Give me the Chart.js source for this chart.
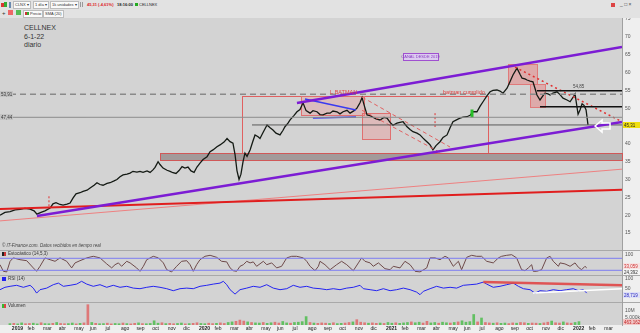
<!DOCTYPE html>
<html lang="es">
<head>
<meta charset="utf-8">
<title>CELLNEX diario</title>
<script src="https://cdn.jsdelivr.net/npm/chart.js@4.4.1/dist/chart.umd.min.js"></script>
<style>
body{margin:0;width:640px;height:333px;overflow:hidden;position:relative;background:#d3d3d3;font-family:"Liberation Sans",Arial,sans-serif;color:#333}
canvas{position:absolute;left:0}
.a{position:absolute;white-space:nowrap;line-height:1}
.bar{position:absolute;left:0;width:640px;background:#e2e2e2}
.btn{position:absolute;height:6px;font-size:4px;line-height:6px;padding:0 1px;background:#fafafa;border:1px solid #bcbcbc;color:#333;white-space:nowrap}
.sq{position:absolute}
.sep{position:absolute;left:0;width:640px;height:1px;background:#a9a9a9}
.strip{position:absolute;background:#efefef}
</style>
</head>
<body>
<div class="bar" style="top:0;height:18px"></div>
<div class="sq" style="left:1px;top:3px;width:3px;height:4px;background:#d33"></div>
<div class="sq" style="left:4px;top:2px;width:3px;height:5px;background:#3a3"></div>
<div class="sq" style="left:9px;top:2px;width:2px;height:6px;background:#6a8ab0"></div>
<div class="btn" style="left:13px;top:1px">CLNX ▾</div>
<div class="btn" style="left:33px;top:1px">1 día ▾</div>
<div class="btn" style="left:50px;top:1px">1k unidades ▾</div>
<div class="sq" style="left:80px;top:2px;width:1px;height:5px;background:#999"></div>
<div class="sq" style="left:82px;top:2px;width:1px;height:5px;background:#999"></div>
<div class="a" style="left:87px;top:3px;font-size:4px;font-weight:bold;color:#d22">45,31 (-4,61%)</div>
<div class="a" style="left:117px;top:3px;font-size:4px;font-weight:bold;color:#222">18:16:00</div>
<div class="sq" style="left:135px;top:3px;width:3px;height:3px;background:#2a2"></div>
<div class="a" style="left:139px;top:3px;font-size:4px;color:#222">CELLNEX</div>
<div class="a" style="left:2px;top:10px;font-size:6px;color:#333">+</div>
<div class="sq" style="left:8px;top:10px;width:5px;height:5px;background:#e66"></div>
<div class="sq" style="left:16px;top:10px;width:5px;height:5px;background:#5b5"></div>
<div class="btn" style="left:23px;top:10px"><span style="display:inline-block;width:2px;height:3px;background:#c33"></span><span style="display:inline-block;width:2px;height:3px;background:#3a3;margin-right:1px"></span>Precio</div>
<div class="btn" style="left:43px;top:10px">SMA (20)</div>
<div class="sq" style="left:611px;top:3px;width:4px;height:4px;background:#d44"></div>
<div class="a" style="left:620px;top:2px;font-size:5px;color:#444">_ □ ×</div>

<div class="a" style="left:24px;top:24px;font-size:7px;color:#333">CELLNEX</div>
<div class="a" style="left:24px;top:33px;font-size:7px;color:#333">6-1-22</div>
<div class="a" style="left:24px;top:41px;font-size:7px;color:#333">diario</div>

<div class="strip" style="left:622px;top:18px;width:18px;height:315px"></div>
<div class="strip" style="left:0;top:325px;width:640px;height:8px"></div>
<div class="sep" style="top:250px"></div>
<div class="sep" style="top:275px"></div>
<div class="sep" style="top:302px"></div>

<canvas id="price" width="640" height="232" style="top:18px"></canvas>
<canvas id="stoch" width="640" height="25" style="top:250px"></canvas>
<canvas id="rsi" width="640" height="27" style="top:275px"></canvas>
<canvas id="vol" width="640" height="31" style="top:302px"></canvas>

<div class="a" style="left:2px;top:244px;font-size:4.5px;font-style:italic;color:#444">© IT-Finance.com. Datos recibidos en tiempo real</div>
<div class="sq" style="left:2px;top:252px;width:2px;height:4px;background:#222"></div>
<div class="sq" style="left:4px;top:252px;width:2px;height:4px;background:#c33"></div>
<div class="a" style="left:8px;top:252px;font-size:4.5px;color:#333">Estocástico (14,5,3)</div>
<div class="sq" style="left:2px;top:277px;width:4px;height:4px;background:#22e"></div>
<div class="a" style="left:8px;top:277px;font-size:4.5px;color:#333">RSI (14)</div>
<div class="sq" style="left:2px;top:304px;width:2px;height:4px;background:#3b3"></div>
<div class="sq" style="left:4px;top:304px;width:2px;height:4px;background:#d44"></div>
<div class="a" style="left:8px;top:304px;font-size:4.5px;color:#333">Volumen</div>

<script>
// x values are months since 1 Jan 2019
const monthLabels = ['2019','feb','mar','abr','may','jun','jul','ago','sep','oct','nov','dic',
  '2020','feb','mar','abr','may','jun','jul','ago','sep','oct','nov','dic',
  '2021','feb','mar','abr','may','jun','jul','ago','sep','oct','nov','dic',
  '2022','feb','mar'];
const priceTicks = [15,20,25,30,35,40,45,50,55,60,65,70,75];

const priceT = [0.00,0.31,0.63,0.94,1.25,1.56,1.88,2.13,2.31,2.56,
  2.81,3.13,3.31,3.50,3.75,3.94,4.19,4.38,4.56,4.75,
  5.00,5.19,5.44,5.63,5.88,6.06,6.25,6.44,6.69,6.88,
  7.13,7.31,7.50,7.69,7.94,8.13,8.31,8.56,8.75,8.94,
  9.19,9.38,9.56,9.69,9.88,10.00,10.19,10.44,10.63,10.81,
  11.00,11.19,11.38,11.56,11.75,11.94,12.13,12.31,12.50,12.69,
  12.94,13.13,13.31,13.56,13.75,14.00,14.19,14.38,14.56,14.69,
  14.81,14.94,15.06,15.19,15.31,15.44,15.63,15.81,15.94,16.13,
  16.25,16.44,16.69,16.88,17.06,17.25,17.50,17.69,17.81,18.00,
  18.13,18.38,18.56,18.75,18.94,19.13,19.38,19.56,19.81,20.00,
  20.19,20.44,20.63,20.81,21.06,21.25,21.44,21.69,21.88,22.13,
  22.31,22.50,22.63,22.75,22.94,23.13,23.25,23.50,23.75,24.00,
  24.19,24.38,24.56,24.81,25.00,25.19,25.44,25.63,25.81,26.06,
  26.25,26.44,26.56,26.75,26.88,27.06,27.25,27.50,27.69,27.94,
  28.13,28.31,28.56,28.75,28.94,29.19,29.38,29.56,29.81,30.00,
  30.19,30.44,30.63,30.81,31.06,31.25,31.44,31.69,31.88,32.06,
  32.31,32.50,32.63,32.81,32.94,33.13,33.31,33.44,33.56,33.75,
  33.94,34.06,34.25,34.38,34.56,34.81,35.00,35.19,35.44,35.63,
  35.81,35.94,36.13,36.25,36.38,36.50,36.63,36.75];
const priceV = [20.0,20.8,21.0,21.5,21.6,21.9,21.7,21.2,20.3,20.8,
  21.2,22.0,23.2,23.5,23.0,22.8,23.1,23.4,24.8,26.0,
  26.3,26.7,27.0,27.6,28.4,29.1,28.6,28.4,28.9,29.1,
  29.6,30.0,30.8,31.3,31.5,31.8,32.3,32.1,32.3,32.0,
  32.4,32.0,32.7,33.4,35.0,34.2,33.2,32.6,32.3,31.9,
  31.7,32.5,33.6,33.2,33.5,32.4,32.0,33.5,34.6,35.6,
  36.4,37.8,38.3,39.2,39.7,40.5,41.5,40.6,40.2,37.0,
  32.5,30.0,31.5,35.0,37.4,36.5,38.3,40.8,42.5,42.0,
  41.5,43.2,45.3,44.5,43.9,43.0,42.5,43.8,44.8,45.8,
  46.7,48.0,49.0,49.6,51.5,49.3,48.6,49.3,49.0,48.2,
  48.1,48.6,48.6,49.2,49.0,48.4,49.0,49.4,48.6,49.3,
  50.0,51.5,53.0,51.0,48.1,47.9,47.6,47.0,46.7,47.4,
  47.2,46.0,45.2,45.8,46.0,46.2,44.8,44.0,43.4,43.0,
  42.5,41.6,41.1,40.3,39.7,38.3,39.5,40.6,41.8,42.5,
  44.5,46.2,46.8,47.2,47.5,47.6,48.0,49.0,49.0,50.5,
  51.8,53.5,54.6,55.0,55.1,54.8,54.2,55.6,57.5,59.3,
  61.2,59.5,58.4,58.2,57.9,57.6,57.4,55.5,53.7,52.3,
  53.5,54.2,54.0,53.7,54.2,54.6,53.8,52.8,52.3,51.8,
  53.0,54.0,48.3,49.5,51.2,50.8,49.5,45.3];

const stochT = [0.00,0.21,0.42,0.63,0.83,1.25,1.67,2.08,2.29,2.50,
  2.81,3.13,3.44,3.75,4.17,4.48,4.69,5.00,5.42,5.83,
  6.25,6.67,6.98,7.19,7.40,7.60,7.92,8.13,8.54,8.75,
  8.96,9.17,9.58,9.90,10.21,10.42,10.73,11.04,11.35,11.67,
  11.88,12.08,12.29,12.50,12.81,13.13,13.54,13.85,14.17,14.38,
  14.58,14.79,15.00,15.21,15.42,15.63,15.83,16.04,16.46,16.67,
  16.98,17.29,17.60,17.92,18.23,18.54,18.96,19.17,19.38,19.69,
  19.90,20.00,20.31,20.63,21.04,21.35,21.67,22.08,22.40,22.60,
  22.81,23.13,23.33,23.65,24.06,24.38,24.58,25.00,25.31,25.63,
  25.94,26.25,26.67,26.88,27.19,27.50,27.81,28.02,28.33,28.65,
  28.85,29.17,29.48,29.79,30.10,30.42,30.83,31.15,31.35,31.67,
  31.98,32.29,32.60,32.81,33.02,33.23,33.33,33.54,33.85,34.17,
  34.38,34.58,34.90,35.00,35.31,35.63,35.94,36.15,36.35,36.56,
  36.67];
const stochV = [48,15,12,65,82,73,68,32,15,40,
  82,73,65,82,65,32,57,68,82,90,
  82,52,32,48,57,40,65,57,32,15,
  40,73,90,82,57,23,12,40,65,68,
  48,15,48,73,90,95,85,65,62,32,
  18,15,40,48,65,57,62,40,65,48,
  57,32,40,82,90,90,82,65,40,18,
  40,65,48,23,48,65,48,18,57,82,
  65,57,40,57,28,23,40,32,65,48,
  15,12,32,82,82,73,90,82,40,65,
  23,85,95,90,90,65,57,82,90,95,
  98,82,23,18,32,48,15,15,23,82,
  90,65,40,57,52,40,57,35,23,40,
  32];
const stochLevels = [80, 20];

const rsiT = [0.00,0.31,0.63,1.04,1.46,1.88,2.08,2.29,2.50,2.92,
  3.33,3.65,3.96,4.38,4.79,5.10,5.42,5.83,6.25,6.67,
  7.08,7.50,7.92,8.33,8.75,9.17,9.58,10.00,10.42,10.83,
  11.25,11.67,12.08,12.50,12.92,13.33,13.75,13.96,14.17,14.38,
  14.69,15.00,15.42,15.83,16.25,16.67,17.08,17.50,17.92,18.33,
  18.75,19.17,19.58,20.00,20.42,20.83,21.25,21.67,22.08,22.50,
  22.71,23.13,23.54,23.96,24.38,24.79,25.21,25.63,26.04,26.25,
  26.46,26.88,27.29,27.71,28.13,28.54,28.96,29.38,29.79,30.21,
  30.42,30.83,31.25,31.67,32.08,32.40,32.71,33.13,33.44,33.75,
  34.17,34.58,35.00,35.42,35.83,36.15,36.46,36.67];
const rsiV = [45,57,62,67,57,67,53,28,45,53,
  70,78,62,67,73,87,73,62,70,57,
  67,57,62,53,50,57,62,57,50,40,
  50,53,50,62,67,73,78,87,70,45,
  23,45,53,62,57,70,53,45,50,67,
  57,62,53,50,45,50,45,53,57,67,
  50,45,40,50,40,45,53,45,33,20,
  37,50,62,53,57,53,67,70,73,83,
  73,57,62,70,78,62,50,45,28,40,
  37,45,40,45,50,40,45,28];

// volume in millions, one bar per quarter month
const volumeM = [1.0,1.2,0.8,1.5,0.9,1.1,1.3,0.8,1.6,1.0,0.9,1.2,1.8,1.1,0.9,1.0,1.4,0.8,1.2,1.5,
  14.5,1.8,
  1.2,0.9,1.0,1.3,0.8,1.1,0.9,1.4,1.0,0.8,1.2,1.5,1.0,0.9,1.1,3.0,1.3,1.6,
  1.0,1.2,0.9,1.1,1.4,0.8,1.0,1.2,1.6,1.1,0.9,1.3,1.0,1.2,1.5,1.1,1.8,2.2,2.6,
  3.5,2.8,2.2,1.8,
  1.5,1.4,1.8,1.2,1.6,2.0,1.4,2.5,1.5,1.3,1.8,2.0,2.4,6.0,1.8,1.4,1.2,1.5,
  1.3,1.1,1.6,1.0,1.2,1.4,1.8,2.2,3.8,2.0,1.6,1.3,1.5,1.2,1.4,1.1,1.8,1.3,1.6,1.2,
  1.5,1.8,2.2,1.6,2.0,1.4,2.6,1.5,1.8,1.3,2.0,1.6,1.4,1.8,2.2,3.0,2.0,2.4,7.5,2.2,5.0,
  1.8,1.5,1.3,1.6,1.2,1.4,1.0,1.5,1.3,1.8,1.6,1.2,1.4,1.3,1.1,1.5,2.0,2.8,1.6,1.4,2.2,1.5,1.3,1.8,2.4];
const volumeDir = ('uduudduuduududduudud' + 'du' + 'duudduududduduuuud' + 'udduududduuddudduud' + 'ddud' +
  'uuduudduuduuuududd' + 'duduuddudddudduduudu' + 'uuduudduuduududuuuudu' + 'dduduuddudduddudduddudduu').split('');
const volumeT = volumeM.map((v, i) => 0.125 + i * 0.25);

const XMAX = 38.875;
const FONT = 'Liberation Sans';
const PURPLE = '#7c1cd4';

// drawn studies on the price panel: [month, price]
const studyLines = [
  {from:[18.56,51.45], to:[XMAX,67.15], color:PURPLE, width:2.5},
  {from:[2.31,19.8], to:[XMAX,46.1], color:PURPLE, width:2.5},
  {from:[0,21.7], to:[XMAX,27.1], color:'#e01e1e', width:2},
  {from:[0,18.4], to:[XMAX,32.9], color:'#ee8080', width:1},
  {from:[0,53.91], to:[XMAX,53.91], color:'#8a8a8a', width:1.5, dash:[6,4]},
  {from:[0,47.44], to:[XMAX,47.44], color:'#8c8c8c', width:1},
  {from:[15.75,45.3], to:[XMAX,45.3], color:'#5a5a5a', width:1},
  {from:[33.56,54.85], to:[XMAX,54.85], color:'#111', width:1.5},
  {from:[33.75,50.4], to:[XMAX,50.4], color:'#111', width:1.5},
  {from:[32.19,61.5], to:[XMAX,46.2], color:'#e03030', width:1.5, dash:[2,3]},
  {from:[19.06,52.6], to:[22.25,49.5], color:'#3a3af0', width:1.5},
  {from:[19.56,47.25], to:[22.25,47.5], color:'#3a3af0', width:1.5},
  {from:[22.63,53.1], to:[28.13,39.1], color:'#e06060', width:1, dash:[4,3]},
  {from:[22.63,49.4], to:[27.5,37.6], color:'#e06060', width:1, dash:[4,3]},
  {from:[3.06,25.3], to:[3.06,22.0], color:'#e03030', width:1, dash:[2,2]},
  {from:[27.19,48.6], to:[27.19,44.7], color:'#e03030', width:1, dash:[2,2]},
  {from:[29.5,49.6], to:[29.5,47.4], color:'#28c028', width:3}
];
const studyBoxes = [
  {from:[15.13,53.4], to:[30.5,37.4], stroke:'#e06060'},
  {from:[10.0,37.4], to:[XMAX,35.5], fill:'#a29a9a', stroke:'#d05858'},
  {from:[18.81,53.4], to:[22.75,48.1], fill:'rgba(240,140,140,0.30)', stroke:'#e07070'},
  {from:[22.63,48.6], to:[24.38,41.4], fill:'rgba(240,140,140,0.35)', stroke:'#e07070'},
  {from:[31.75,62.4], to:[33.56,56.8], fill:'rgba(232,120,120,0.45)', stroke:'#e07a7a'},
  {from:[33.13,56.8], to:[34.06,50.3], fill:'rgba(232,120,120,0.45)', stroke:'#e07a7a'},
  {from:[25.19,65.5], to:[27.38,63.4], fill:'#dccbf0', stroke:'#a050d0'}
];
const studyTexts = [
  {at:[20.63,54.3], text:'L BATMAN', color:'#e04040', size:5.5},
  {at:[27.69,54.45], text:'batman cumplido', color:'#e04040', size:5.5},
  {at:[35.81,56.1], text:'54,85', color:'#444', size:4.5},
  {at:[26.28,64.45], text:'CANAL DESDE 2019', color:'#8a3ec0', size:4, align:'center'}
];

const fitRight = s => { s.width = 18; s.paddingTop = 0; s.paddingBottom = 0; };

// plugin factory: the drawings are kept in a closure, not in chart options
function drawings(d) {
  return {
    id: 'drawings',
    beforeDatasetsDraw(chart) {
      const {ctx, scales: {x, y}} = chart;
      ctx.save();
      (d.boxes || []).forEach(b => {
        const x0 = Math.round(x.getPixelForValue(b.from[0])), x1 = Math.round(x.getPixelForValue(b.to[0]));
        const y0 = Math.round(y.getPixelForValue(b.from[1])), y1 = Math.round(y.getPixelForValue(b.to[1]));
        if (b.fill) { ctx.fillStyle = b.fill; ctx.fillRect(x0, y0, x1 - x0, y1 - y0); }
        if (b.stroke) { ctx.strokeStyle = b.stroke; ctx.lineWidth = 1; ctx.strokeRect(x0 + 0.5, y0 + 0.5, x1 - x0, y1 - y0); }
      });
      ctx.restore();
    },
    afterDatasetsDraw(chart) {
      const {ctx, chartArea: a, scales: {x, y}} = chart;
      ctx.save();
      ctx.textBaseline = 'middle';
      (d.texts || []).forEach(t => {
        ctx.font = t.size + 'px "' + FONT + '"';
        ctx.fillStyle = t.color;
        ctx.textAlign = t.align || 'left';
        ctx.fillText(t.text, x.getPixelForValue(t.at[0]), y.getPixelForValue(t.at[1]));
      });
      (d.arrows || []).forEach(p => {
        const cx = x.getPixelForValue(p[0]), cy = y.getPixelForValue(p[1]);
        ctx.beginPath();
        ctx.moveTo(cx - 8, cy); ctx.lineTo(cx - 1, cy - 6); ctx.lineTo(cx - 1, cy - 3);
        ctx.lineTo(cx + 7, cy - 3); ctx.lineTo(cx + 7, cy + 3); ctx.lineTo(cx - 1, cy + 3);
        ctx.lineTo(cx - 1, cy + 6); ctx.closePath();
        ctx.strokeStyle = '#ffffff'; ctx.lineWidth = 1.5; ctx.stroke();
      });
      (d.tags || []).forEach(t => {
        const py = Math.round(y.getPixelForValue(t.value)) + (t.nudge || 0);
        const px = t.left ? 0 : a.right + 1;
        ctx.fillStyle = t.bg; ctx.fillRect(px, py - 3, t.w || 17, 6);
        ctx.font = '4.5px "' + FONT + '"';
        ctx.fillStyle = t.color; ctx.textAlign = 'left';
        ctx.fillText(t.text, px + 1, py + 0.5);
      });
      ctx.restore();
    }
  };
}

const pts = (xs, ys) => xs.map((v, i) => ({x: v, y: ys[i]}));
const hidden = {display: false};
const baseOpts = {
  responsive: false, animation: false, events: [],
  layout: {padding: 0},
  elements: {point: {radius: 0}, line: {tension: 0}}
};
const rightAxis = (min, max, ticks, label) => ({
  position: 'right', min, max,
  grid: {display: false, drawTicks: false},
  border: {display: true, color: '#a0a0a0'},
  afterBuildTicks: s => { s.ticks = ticks.map(v => ({value: v})); },
  afterFit: fitRight,
  ticks: {padding: 3, color: '#555', font: {size: 5, family: FONT}, callback: label || (v => v)}
});
const plainX = {type: 'linear', min: 0, max: XMAX, display: false};

// price panel
new Chart(document.getElementById('price'), {
  type: 'line',
  data: {
    datasets: studyLines.map(l => ({
      data: [{x: l.from[0], y: l.from[1]}, {x: l.to[0], y: l.to[1]}],
      borderColor: l.color, borderWidth: l.width, borderDash: l.dash || []
    })).concat([{
      data: pts(priceT, priceV), borderColor: '#141a14', borderWidth: 1.3
    }])
  },
  options: Object.assign({}, baseOpts, {
    plugins: {legend: hidden, tooltip: {enabled: false}},
    scales: {x: plainX, y: rightAxis(10.24, 75.28, priceTicks)}
  }),
  plugins: [drawings({
    boxes: studyBoxes, texts: studyTexts, arrows: [[37.69, 45.0]],
    tags: [
      {value: 45.31, text: '45,31', bg: '#f0e010', color: '#222'},
      {value: 53.91, text: '53,91', bg: '#c4c4c4', color: '#333', left: true, w: 13},
      {value: 47.44, text: '47,44', bg: '#c4c4c4', color: '#333', left: true, w: 13}
    ]
  })]
});

// stochastic panel
new Chart(document.getElementById('stoch'), {
  type: 'line',
  data: {
    datasets: stochLevels.map(v => ({
      data: [{x: 0, y: v}, {x: XMAX, y: v}], borderColor: '#7d7df2', borderWidth: 1
    })).concat([{data: pts(stochT, stochV), borderColor: '#6e4a4a', borderWidth: 1}])
  },
  options: Object.assign({}, baseOpts, {
    plugins: {legend: hidden, tooltip: {enabled: false}},
    scales: {x: plainX, y: rightAxis(-3.5, 121.5, [100])}
  }),
  plugins: [drawings({tags: [
    {value: 33.06, text: '33,059', bg: '#f7e2e2', color: '#d03030', nudge: -2},
    {value: 24.39, text: '24,392', bg: '#f4f4f4', color: '#333', nudge: 3}
  ]})]
});

// RSI panel
new Chart(document.getElementById('rsi'), {
  type: 'line',
  data: {
    datasets: [
      {data: [{x: 30.21, y: 83}, {x: XMAX, y: 67}], borderColor: 'rgba(224,70,70,0.9)', borderWidth: 2.5},
      {data: [{x: 33.31, y: 28}, {x: XMAX, y: 50}], borderColor: '#ffffff', borderWidth: 1.5},
      {data: pts(rsiT, rsiV), borderColor: '#2424f0', borderWidth: 1}
    ]
  },
  options: Object.assign({}, baseOpts, {
    plugins: {legend: hidden, tooltip: {enabled: false}},
    scales: {x: plainX, y: rightAxis(-16.5, 118.5, [100, 50])}
  }),
  plugins: [drawings({tags: [{value: 28.72, text: '28,719', bg: '#dfe0f6', color: '#2424c0', nudge: 2}]})]
});

// volume panel with the date axis
new Chart(document.getElementById('vol'), {
  type: 'bar',
  data: {
    datasets: [{
      data: pts(volumeT, volumeM),
      backgroundColor: volumeDir.map(d => d === 'u' ? 'rgba(60,185,60,0.75)' : 'rgba(225,90,90,0.75)'),
      barThickness: 2, borderWidth: 0
    }]
  },
  options: Object.assign({}, baseOpts, {
    plugins: {legend: hidden, tooltip: {enabled: false}},
    scales: {
      x: {
        type: 'linear', min: 0, max: XMAX, position: 'bottom',
        grid: {display: false, drawTicks: false}, border: {display: false},
        afterBuildTicks: s => { s.ticks = monthLabels.map((m, i) => ({value: i + 0.25})); },
        afterFit: s => { s.height = 8; s.paddingLeft = 0; s.paddingRight = 0; },
        ticks: {
          autoSkip: false, maxRotation: 0, minRotation: 0, align: 'start', padding: 1, color: '#222',
          font: c => ({size: 5, family: FONT, weight: /^\d/.test(monthLabels[c.index] || '') ? 'bold' : 'normal'}),
          callback: (v, i) => monthLabels[i]
        }
      },
      y: rightAxis(0, 16.4, [10, 5], v => v === 10 ? '10M' : '5.000k')
    }
  }),
  plugins: [drawings({tags: [{value: 0.46, text: '463.162', bg: '#f2c8c8', color: '#c02020', nudge: -2}]})]
});
</script>
</body>
</html>
